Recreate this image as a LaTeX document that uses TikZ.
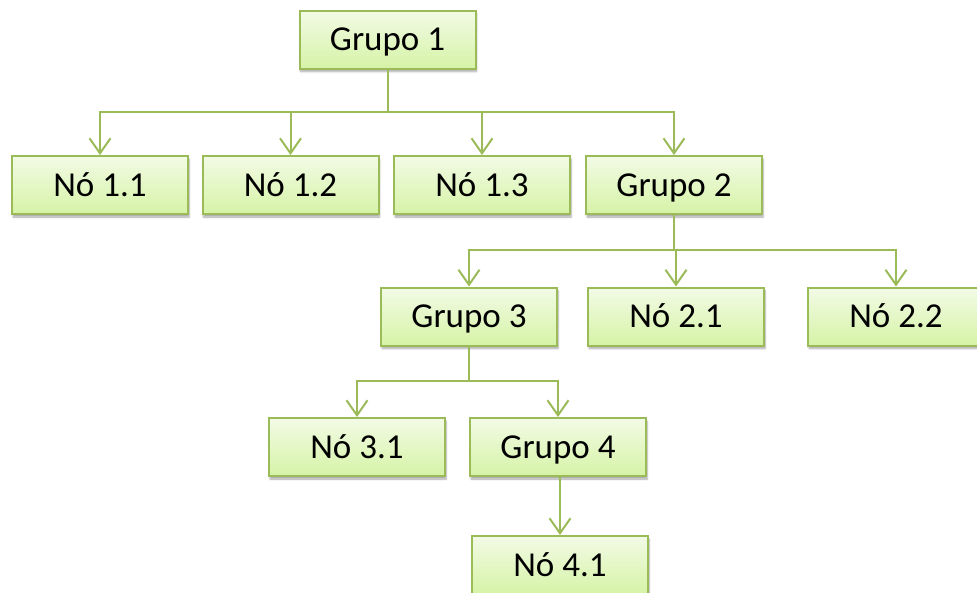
\documentclass[tikz,border=0pt]{standalone}
\usepackage{fontspec}
\setmainfont{Carlito}
\usetikzlibrary{arrows.meta,shadows.blur}
\definecolor{olive}{RGB}{155,187,89}
\definecolor{boxtop}{RGB}{242,251,230}
\definecolor{boxbot}{RGB}{214,243,166}
\tikzset{
  box/.style={draw=olive, line width=2pt, top color=boxtop, bottom color=boxbot,
    minimum width=176pt, minimum height=58pt, inner sep=0pt,
    text height=22pt, text depth=0pt,
    font=\fontsize{35}{42}\selectfont,
    blur shadow={shadow xshift=1pt, shadow yshift=-3pt, shadow blur steps=6, shadow opacity=35}},
  link/.style={draw=olive, line width=2pt,
    -{Straight Barb[length=15pt,width=21pt,line width=2pt]}},
}
\begin{document}
\begin{tikzpicture}[x=1pt,y=-1pt]
  \useasboundingbox (0,0) rectangle (977,592);
  % tree nodes
  \node[box] (g1)  at (387.5,39.5) {Grupo 1};
  \node[box] (n11) at (100,185)    {Nó 1.1};
  \node[box] (n12) at (290.5,185)  {Nó 1.2};
  \node[box] (n13) at (482,185)    {Nó 1.3};
  \node[box] (g2)  at (674,185)    {Grupo 2};
  \node[box] (g3)  at (469,316.5)  {Grupo 3};
  \node[box] (n21) at (676,316.5)  {Nó 2.1};
  \node[box] (n22) at (896,316.5)  {Nó 2.2};
  \node[box] (n31) at (357,447)    {Nó 3.1};
  \node[box] (g4)  at (558,447)    {Grupo 4};
  \node[box] (n41) at (560,565)    {Nó 4.1};
  % bus levels of the elbow connectors
  \coordinate (b1) at (0,112);
  \coordinate (b2) at (0,250);
  \coordinate (b3) at (0,381);
  % connectors
  \foreach \c in {n11,n12,n13,g2}
    \draw[link] (g1.south) -- (g1.south |- b1) -| (\c.north);
  \foreach \c in {g3,n21,n22}
    \draw[link] (g2.south) -- (g2.south |- b2) -| (\c.north);
  \foreach \c in {n31,g4}
    \draw[link] (g3.south) -- (g3.south |- b3) -| (\c.north);
  \draw[link] (g4.south) -- (g4.south -| n41.north) -- (n41.north);
\end{tikzpicture}
\end{document}
